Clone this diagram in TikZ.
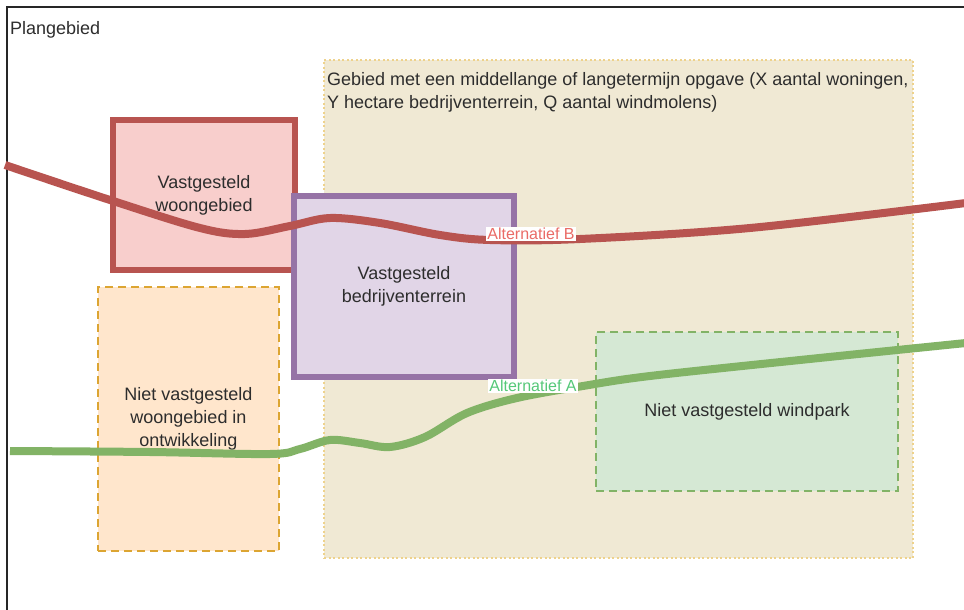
\documentclass[tikz,border=0pt]{standalone}
\usepackage{fontspec}
\setmainfont{Liberation Sans}
\usetikzlibrary{positioning}
\definecolor{redS}{HTML}{B85450}
\definecolor{redF}{HTML}{F8CECC}
\definecolor{purS}{HTML}{9673A6}
\definecolor{purF}{HTML}{E1D5E7}
\definecolor{oraS}{RGB}{220,165,50}
\definecolor{oraF}{HTML}{FFE6CC}
\definecolor{greS}{HTML}{82B366}
\definecolor{greF}{HTML}{D5E8D4}
\definecolor{begF}{RGB}{240,233,212}
\definecolor{begS}{RGB}{238,210,140}
\definecolor{txt}{RGB}{45,45,45}
\definecolor{labB}{HTML}{EA6B66}
\definecolor{labA}{RGB}{85,200,120}
\tikzset{
  lbl/.style={font=\fontsize{18}{23}\selectfont, text=txt, align=center},
  area/.style={rectangle, inner sep=0pt, lbl},
  fixbox/.style={area, line width=6pt},
  planbox/.style={area, line width=1.3pt, dash pattern=on 8pt off 5pt},
  route/.style={line width=8pt, line cap=butt},
  altlabel/.style={fill=white, inner sep=1pt, font=\fontsize{16}{18}\selectfont}
}
\begin{document}
\begin{tikzpicture}[x=1pt, y=-1pt]
\useasboundingbox (0,0) rectangle (964,610);
\fill[white] (0,0) rectangle (964,610);
% frame
\draw[line width=1.6pt, black!85] (964,7) coordinate (frTR) -- (7,7) coordinate (frTL) -- (7,612) coordinate (frBL);
\node[lbl, anchor=north west, inner sep=0pt] (plan) at (10,21) {Plangebied};
% beige area
\node[area, fill=begF, draw=begS, line width=1.2pt, dash pattern=on 2pt off 2.5pt,
      minimum width=589pt, minimum height=498pt] (gebied) at (618.5,309) {};
\node[lbl, align=left, anchor=north west, inner sep=0pt] (gebtxt) at (327,72)
  {Gebied met een middellange of langetermijn opgave (X aantal woningen,\\Y hectare bedrijventerrein, Q aantal windmolens)};
% orange
\node[planbox, fill=oraF, draw=oraS, minimum width=181pt, minimum height=264pt] (orange) at (188.5,419)
  {Niet vastgesteld\\woongebied in\\ontwikkeling};
% green
\node[planbox, fill=greF, draw=greS, minimum width=302pt, minimum height=159pt] (wind) at (747,411.5)
  {Niet vastgesteld windpark};
% red
\node[fixbox, fill=redF, draw=redS, minimum width=182pt, minimum height=150pt] (woon) at (204,195)
  {Vastgesteld\\woongebied};
% purple
\node[fixbox, fill=purF, draw=purS, minimum width=220pt, minimum height=181pt] (bedr) at (404,286.5)
  {Vastgesteld\\bedrijventerrein};
% route B
\draw[route, redS] plot[smooth, tension=0.55] coordinates {
  (5,165) (110,200) (200,228) (245,234) (290,226) (330,218) (380,223) (440,235) (490,240)
  (580,239) (750,228) (966,203)};
% route A
\draw[route, greS] plot[smooth, tension=0.55] coordinates {
  (10,451) (150,452) (270,454) (300,449) (330,440) (360,443) (390,447) (425,437)
  (467,413) (517,398) (583,386) (650,376) (800,360) (966,343)};
\node[altlabel, text=labB] (altB) at (531,234) {Alternatief B};
\node[altlabel, text=labA] (altA) at (533,386) {Alternatief A};
\end{tikzpicture}
\end{document}
